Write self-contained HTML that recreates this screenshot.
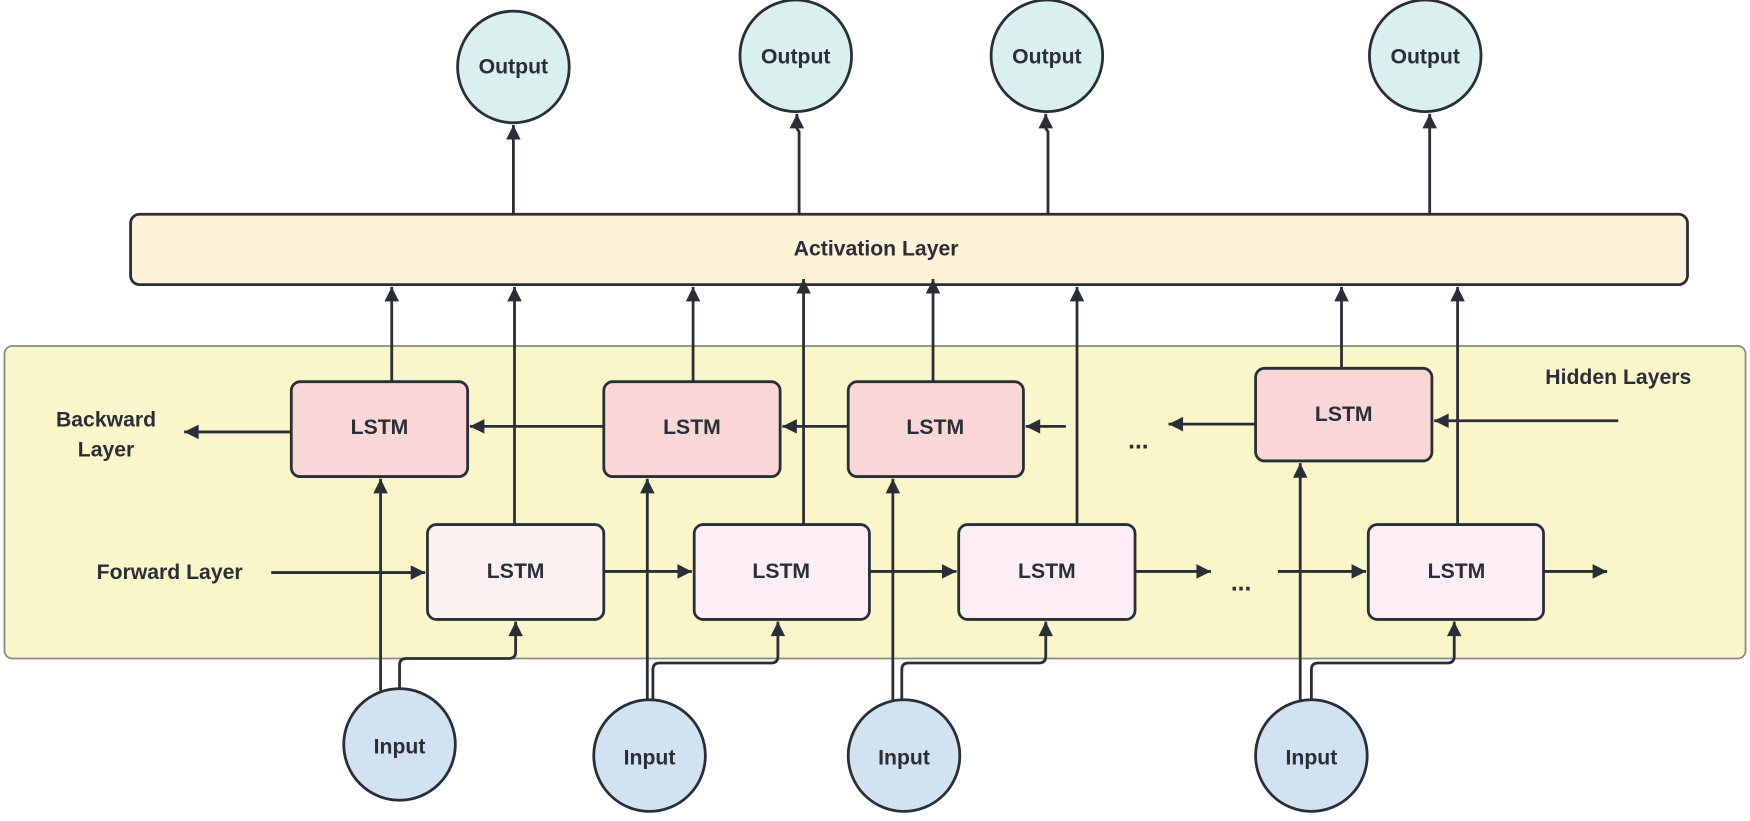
<!DOCTYPE html>
<html><head><meta charset="utf-8"><style>
html,body{margin:0;padding:0;background:#fff;}
svg{display:block;}
text{font-family:"Liberation Sans",sans-serif;font-weight:bold;fill:#2a2e36;}
</style></head><body>
<svg width="1750" height="821" viewBox="0 0 1568 735.6" preserveAspectRatio="none" xmlns="http://www.w3.org/2000/svg">
<defs>
<marker id="a" viewBox="0 0 10 10" refX="10" refY="5" markerWidth="6" markerHeight="5.2" markerUnits="strokeWidth" orient="auto">
<path d="M0,0 L10,5 L0,10 z" fill="#2a2e36"/></marker>
</defs>
<g stroke="#2a2e36" stroke-width="2.5" fill="none">
<rect x="4" y="310" width="1560" height="280" rx="7" fill="#faf6c9" stroke="#8a8a80" stroke-width="1.6"/>
<rect x="117" y="192" width="1395" height="63" rx="8" fill="#fdf2d8"/>
<circle cx="460" cy="60" r="50" fill="#daf0ee"/>
<circle cx="713" cy="50" r="50" fill="#daf0ee"/>
<circle cx="938" cy="50" r="50" fill="#daf0ee"/>
<circle cx="1277" cy="50" r="50" fill="#daf0ee"/>
<circle cx="358" cy="667" r="50" fill="#d1e2f3"/>
<circle cx="582" cy="677" r="50" fill="#d1e2f3"/>
<circle cx="810" cy="677" r="50" fill="#d1e2f3"/>
<circle cx="1175" cy="677" r="50" fill="#d1e2f3"/>
<rect x="261" y="342" width="158" height="85" rx="8" fill="#f9d7d7"/>
<rect x="541" y="342" width="158" height="85" rx="8" fill="#f9d7d7"/>
<rect x="760" y="342" width="157" height="85" rx="8" fill="#f9d7d7"/>
<rect x="1125" y="330" width="158" height="83" rx="8" fill="#f9d7d7"/>
<rect x="383" y="470" width="158" height="85" rx="8" fill="#fdf0f1"/>
<rect x="622" y="470" width="157" height="85" rx="8" fill="#fdedf4"/>
<rect x="859" y="470" width="158" height="85" rx="8" fill="#fdedf4"/>
<rect x="1226" y="470" width="157" height="85" rx="8" fill="#fdedf4"/>
<path d="M460,192 V112" marker-end="url(#a)"/>
<path d="M716,192 V118 L714,115 V102" marker-end="url(#a)"/>
<path d="M939,192 V118 L937,115 V102" marker-end="url(#a)"/>
<path d="M1281,192 V102" marker-end="url(#a)"/>
<path d="M351,342 V257" marker-end="url(#a)"/>
<path d="M461,470 V257" marker-end="url(#a)"/>
<path d="M621,342 V257" marker-end="url(#a)"/>
<path d="M720,470 V250" marker-end="url(#a)"/>
<path d="M836,342 V250" marker-end="url(#a)"/>
<path d="M965,470 V257" marker-end="url(#a)"/>
<path d="M1202,330 V257" marker-end="url(#a)"/>
<path d="M1306,470 V257" marker-end="url(#a)"/>
<path d="M261,387 H165" marker-end="url(#a)"/>
<path d="M541,382 H421" marker-end="url(#a)"/>
<path d="M760,382 H701" marker-end="url(#a)"/>
<path d="M955,382 H919" marker-end="url(#a)"/>
<path d="M1125,380 H1047" marker-end="url(#a)"/>
<path d="M1450,377 H1285" marker-end="url(#a)"/>
<path d="M243,513 H381" marker-end="url(#a)"/>
<path d="M541,512 H620" marker-end="url(#a)"/>
<path d="M779,512 H857" marker-end="url(#a)"/>
<path d="M1017,512 H1085" marker-end="url(#a)"/>
<path d="M1145,512 H1224" marker-end="url(#a)"/>
<path d="M1383,512 H1440" marker-end="url(#a)"/>
<path d="M341,619 V429" marker-end="url(#a)"/>
<path d="M358,618 V596 Q358,590 364,590 H456 Q462,590 462,584 V557" marker-end="url(#a)"/>
<path d="M580,628 V429" marker-end="url(#a)"/>
<path d="M585,628 V600 Q585,594 591,594 H691 Q697,594 697,588 V557" marker-end="url(#a)"/>
<path d="M800,628 V429" marker-end="url(#a)"/>
<path d="M808,628 V600 Q808,594 814,594 H931 Q937,594 937,588 V557" marker-end="url(#a)"/>
<path d="M1165,628 V415" marker-end="url(#a)"/>
<path d="M1175,628 V600 Q1175,594 1181,594 H1297 Q1303,594 1303,588 V557" marker-end="url(#a)"/>
</g>
<g font-size="19" text-anchor="middle">
<text x="460" y="66">Output</text>
<text x="713" y="57">Output</text>
<text x="938" y="57">Output</text>
<text x="1277" y="57">Output</text>
<text x="785" y="229">Activation Layer</text>
<text x="340" y="389">LSTM</text>
<text x="620" y="389">LSTM</text>
<text x="838" y="389">LSTM</text>
<text x="1204" y="377">LSTM</text>
<text x="462" y="518">LSTM</text>
<text x="700" y="518">LSTM</text>
<text x="938" y="518">LSTM</text>
<text x="1305" y="518">LSTM</text>
<text x="358" y="675">Input</text>
<text x="582" y="685">Input</text>
<text x="810" y="685">Input</text>
<text x="1175" y="685">Input</text>
<text x="95" y="382">Backward</text>
<text x="95" y="409">Layer</text>
<text x="152" y="519">Forward Layer</text>
<text x="1450" y="344">Hidden Layers</text>
<text x="1020" y="402" font-size="22">...</text>
<text x="1112" y="529" font-size="22">...</text>
</g>
</svg>
</body></html>
